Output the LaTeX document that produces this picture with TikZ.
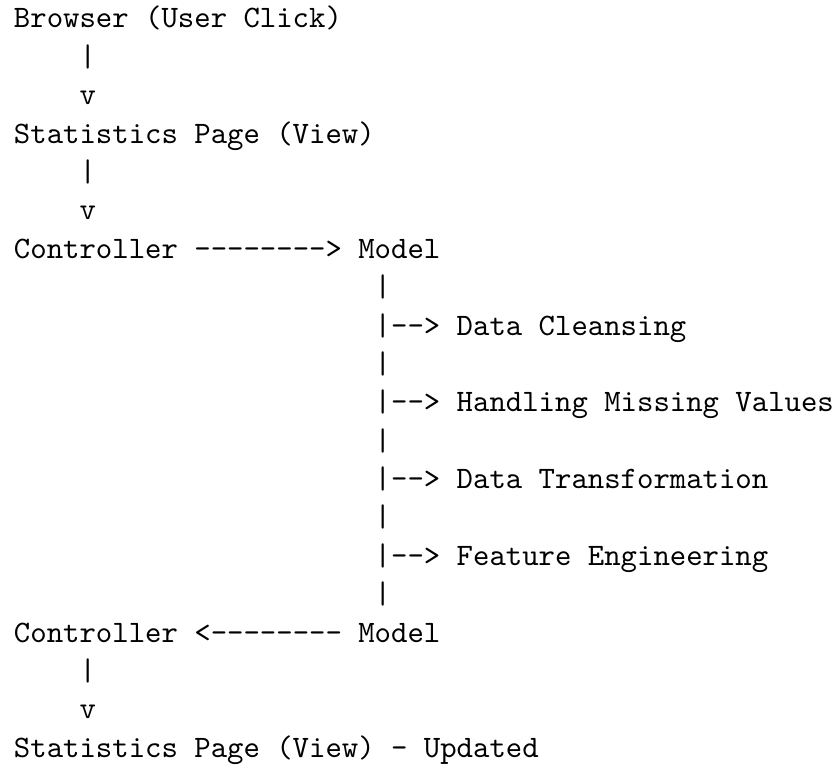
\documentclass[tikz,border=0pt]{standalone}
\newcommand\hy{-\kern0pt}
\tikzset{
  ln/.style={anchor=base west, inner sep=0pt, outer sep=0pt,
             font=\ttfamily\fontsize{10}{12}\selectfont, text=black}
}
\begin{document}
\begin{tikzpicture}[x=1pt,y=1pt]
\useasboundingbox (0,0) rectangle (268.3,-245.5);
% line 1-6
\node[ln] (browser) at (4.48,-8.96) {Browser (User Click)};
\node[ln] (bar1) at (25.48,-21.25) {|};
\node[ln] (v1) at (25.48,-33.54) {v};
\node[ln] (stats) at (4.48,-45.83) {Statistics Page (View)};
\node[ln] (bar2) at (25.48,-58.12) {|};
\node[ln] (v2) at (25.48,-70.41) {v};
% line 7
\node[ln] (ctrl1) at (4.48,-82.70) {Controller};
\node[ln] (arr1) at (62.23,-82.70) {\hy\hy\hy\hy\hy\hy\hy\hy>};
\node[ln] (model1) at (114.73,-82.70) {Model};
% model pipeline
\node[ln] (p1) at (119.98,-94.99) {|};
\node[ln] (b1) at (119.98,-107.28) {|\hy\hy>};
\node[ln] (clean) at (146.23,-107.28) {Data Cleansing};
\node[ln] (p2) at (119.98,-119.57) {|};
\node[ln] (b2) at (119.98,-131.86) {|\hy\hy>};
\node[ln] (missing) at (146.23,-131.86) {Handling Missing Values};
\node[ln] (p3) at (119.98,-144.15) {|};
\node[ln] (b3) at (119.98,-156.44) {|\hy\hy>};
\node[ln] (transf) at (146.23,-156.44) {Data Transformation};
\node[ln] (p4) at (119.98,-168.73) {|};
\node[ln] (b4) at (119.98,-181.02) {|\hy\hy>};
\node[ln] (feat) at (146.23,-181.02) {Feature Engineering};
\node[ln] (p5) at (119.98,-193.31) {|};
% line 17
\node[ln] (ctrl2) at (4.48,-205.60) {Controller};
\node[ln] (arr2) at (62.23,-205.60) {<\hy\hy\hy\hy\hy\hy\hy\hy};
\node[ln] (model2) at (114.73,-205.60) {Model};
% lines 18-20
\node[ln] (bar3) at (25.48,-217.89) {|};
\node[ln] (v3) at (25.48,-230.18) {v};
\node[ln] (stats2) at (4.48,-242.47) {Statistics Page (View) \hy{} Updated};
\end{tikzpicture}
\end{document}
